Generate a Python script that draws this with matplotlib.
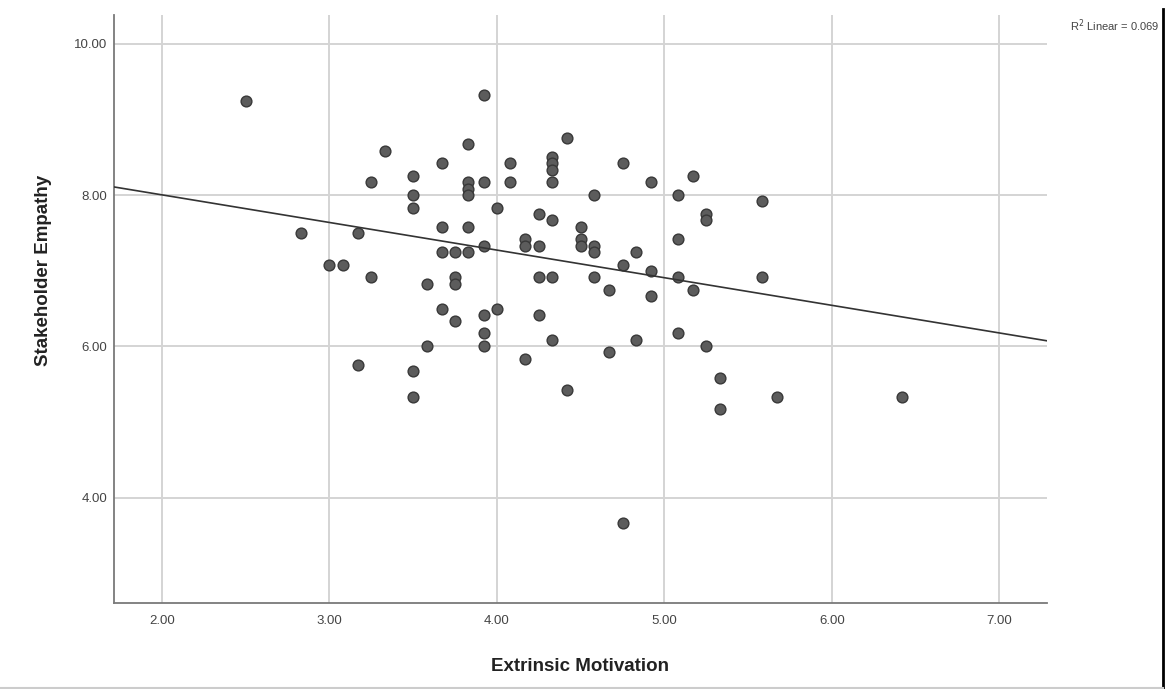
import numpy as np
import matplotlib
matplotlib.use("Agg")
import matplotlib.pyplot as plt
from matplotlib.lines import Line2D

plt.rcParams['font.family'] = ['Liberation Sans', 'DejaVu Sans']

# extrinsic motivation / stakeholder empathy
extrinsic = [2.50, 2.83, 3.00, 3.08, 3.17, 3.17, 3.25, 3.25, 3.33, 3.50,
             3.50, 3.50, 3.50, 3.50, 3.58, 3.58, 3.67, 3.67, 3.67, 3.67,
             3.75, 3.75, 3.75, 3.75, 3.83, 3.83, 3.83, 3.83, 3.83, 3.83,
             3.92, 3.92, 3.92, 3.92, 3.92, 3.92, 4.00, 4.00, 4.08, 4.08,
             4.17, 4.17, 4.17, 4.25, 4.25, 4.25, 4.25, 4.33, 4.33, 4.33,
             4.33, 4.33, 4.33, 4.33, 4.42, 4.42, 4.50, 4.50, 4.50, 4.58,
             4.58, 4.58, 4.58, 4.67, 4.67, 4.75, 4.75, 4.75, 4.83, 4.83,
             4.92, 4.92, 4.92, 5.08, 5.08, 5.08, 5.08, 5.17, 5.17, 5.25,
             5.25, 5.25, 5.33, 5.33, 5.58, 5.58, 5.67, 6.42]
empathy = [9.25, 7.50, 7.08, 7.08, 7.50, 5.75, 8.17, 6.92, 8.58, 8.25,
           8.00, 7.83, 5.67, 5.33, 6.83, 6.00, 8.42, 7.58, 7.25, 6.50,
           7.25, 6.92, 6.83, 6.33, 8.67, 8.17, 8.08, 8.00, 7.58, 7.25,
           9.33, 8.17, 7.33, 6.42, 6.17, 6.00, 7.83, 6.50, 8.42, 8.17,
           7.42, 7.33, 5.83, 7.75, 7.33, 6.92, 6.42, 8.50, 8.42, 8.33,
           8.17, 7.67, 6.92, 6.08, 8.75, 5.42, 7.58, 7.42, 7.33, 8.00,
           7.33, 7.25, 6.92, 6.75, 5.92, 8.42, 7.08, 3.67, 7.25, 6.08,
           8.17, 7.00, 6.67, 8.00, 7.42, 6.92, 6.17, 8.25, 6.75, 7.75,
           7.67, 6.00, 5.58, 5.17, 7.92, 6.92, 5.33, 5.33]

xticks = [2, 3, 4, 5, 6, 7]
yticks = [4, 6, 8, 10]
fit_label = "R$^2$ Linear = 0.069"

fig = plt.figure(figsize=(11.69, 6.89), dpi=100)
ax = fig.add_axes([0.0975, 0.125, 0.798, 0.853])

x = np.array(extrinsic)
y = np.array(empathy)
ax.scatter(x, y, s=60, c='#5c5c5c', edgecolors='#383838', linewidths=1.0, zorder=3)

xmin, xmax = 1.713, 7.284
ax.set_xlim(xmin, xmax)
ax.set_ylim(2.607, 10.38)

slope, icpt = np.polyfit(x, y, 1)
xx = np.array([xmin, xmax])
ax.plot(xx, icpt + slope * xx, color='#333333', lw=1.2, zorder=4)

ax.set_xticks(xticks)
ax.set_yticks(yticks)
ax.set_xticklabels(['%.2f' % v for v in xticks])
ax.set_yticklabels(['%.2f' % v for v in yticks])
ax.tick_params(length=0, labelsize=9.5, labelcolor='#444444')
ax.tick_params(axis='x', pad=9)
ax.tick_params(axis='y', pad=5)
ax.grid(True, color='#d4d4d4', lw=1.4, zorder=0)
ax.set_axisbelow(True)

for s in ['top', 'right']:
    ax.spines[s].set_visible(False)
for s in ['left', 'bottom']:
    ax.spines[s].set_color('#7a7a7a')
    ax.spines[s].set_linewidth(1.3)

ax.set_xlabel('Extrinsic Motivation', fontsize=13.5, fontweight='bold', color='#222222', labelpad=22)
ax.set_ylabel('Stakeholder Empathy', fontsize=13.5, fontweight='bold', color='#222222')
ax.yaxis.set_label_coords(-0.066, 0.566)

fig.text(0.992, 0.963, fit_label, ha='right', va='center', fontsize=8, color='#444444')

# frame edges of the screenshot
fig.add_artist(Line2D([0.995, 0.995], [0.0, 0.987], color='black', lw=2, transform=fig.transFigure))
fig.add_artist(Line2D([0.0, 0.995], [0.002, 0.002], color='#cccccc', lw=1.5, transform=fig.transFigure))

fig.savefig('out.png', dpi=100)
